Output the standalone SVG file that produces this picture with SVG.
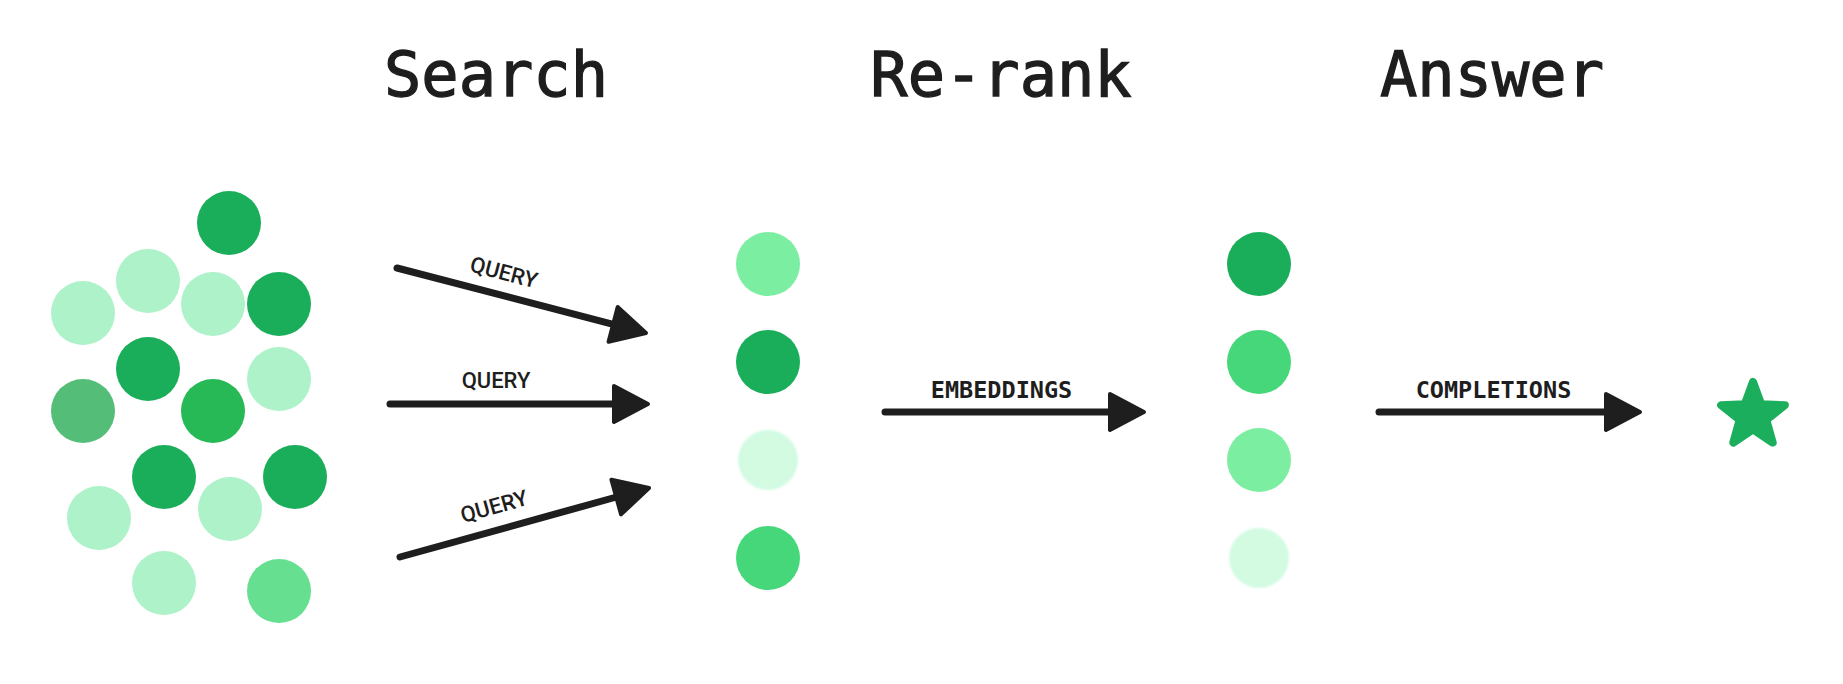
<svg xmlns="http://www.w3.org/2000/svg" width="1843" height="684" viewBox="0 0 1843 684">
  <style>
    .heading { font-family: "DejaVu Sans Mono", "Liberation Mono", monospace; font-size: 62px; fill: #1e1e1e; stroke: #1e1e1e; stroke-width: 1.3; text-anchor: middle; }
    .lbl { font-family: "DejaVu Sans Mono", "Liberation Mono", monospace; font-size: 23.5px; font-weight: bold; fill: #1e1e1e; text-anchor: middle; }
    .q { font-family: Roboto, "Liberation Sans", sans-serif; font-size: 22px; font-weight: 500; fill: #1e1e1e; text-anchor: middle; }
    .edge { stroke: #1e1e1e; stroke-width: 7; stroke-linecap: round; fill: none; marker-end: url(#head); }
    .dark { fill: #1AAE5B; }
    .light { fill: #ADF2C8; }
    .medH { fill: #54BE79; }
    .brightI { fill: #27B955; }
    .medO { fill: #66DF91; }
    .mint { fill: #7CEEA2; }
    .mid { fill: #46D77B; }
    .pale { fill: #D2FBE2; filter: url(#soft); }
  </style>
  <defs>
    <marker id="head" markerUnits="userSpaceOnUse" viewBox="-40 -25 50 50" markerWidth="50" markerHeight="50" refX="-30" refY="0" orient="auto">
      <path d="M-34,-18 L0,0 L-34,18 Z" fill="#1e1e1e" stroke="#1e1e1e" stroke-width="4" stroke-linejoin="round"/>
    </marker>
    <filter id="soft" x="-20%" y="-20%" width="140%" height="140%">
      <feGaussianBlur stdDeviation="0.8"/>
    </filter>
  </defs>
  <rect width="1843" height="684" fill="#ffffff"/>

  <g id="headings">
    <text class="heading" x="496" y="96">Search</text>
    <text class="heading" x="1001" y="96">Re-rank</text>
    <text class="heading" x="1492" y="96">Answer</text>
  </g>

  <g id="corpus">
    <circle class="dark" cx="229" cy="223" r="32"/>
    <circle class="light" cx="148" cy="281" r="32"/>
    <circle class="light" cx="83" cy="313" r="32"/>
    <circle class="light" cx="213" cy="304" r="32"/>
    <circle class="dark" cx="279" cy="304" r="32"/>
    <circle class="dark" cx="148" cy="369" r="32"/>
    <circle class="light" cx="279" cy="379" r="32"/>
    <circle class="medH" cx="83" cy="411" r="32"/>
    <circle class="brightI" cx="213" cy="411" r="32"/>
    <circle class="dark" cx="164" cy="477" r="32"/>
    <circle class="dark" cx="295" cy="477" r="32"/>
    <circle class="light" cx="99" cy="518" r="32"/>
    <circle class="light" cx="230" cy="509" r="32"/>
    <circle class="light" cx="164" cy="583" r="32"/>
    <circle class="medO" cx="279" cy="591" r="32"/>
  </g>

  <g id="search-results">
    <circle class="mint" cx="768" cy="264" r="32"/>
    <circle class="dark" cx="768" cy="362" r="32"/>
    <circle class="pale" cx="768" cy="460" r="30"/>
    <circle class="mid" cx="768" cy="558" r="32"/>
  </g>

  <g id="reranked">
    <circle class="dark" cx="1259" cy="264" r="32"/>
    <circle class="mid" cx="1259" cy="362" r="32"/>
    <circle class="mint" cx="1259" cy="460" r="32"/>
    <circle class="pale" cx="1259" cy="558" r="30"/>
  </g>

  <g id="answer">
    <polygon points="1753,382 1761.2,404.2 1784.9,405.2 1766.3,419.8 1772.7,442.6 1753,429.5 1733.3,442.6 1739.7,419.8 1721.1,405.2 1744.8,404.2" fill="#1BAF5D" stroke="#1BAF5D" stroke-width="8" stroke-linejoin="round"/>
  </g>

  <g id="connectors">
    <line class="edge" x1="397" y1="268" x2="617" y2="325.4"/>
    <text class="q" x="504" y="280" transform="rotate(14.6 504 272)">QUERY</text>
    <line class="edge" x1="390" y1="404" x2="618" y2="404"/>
    <text class="q" x="496" y="388">QUERY</text>
    <line class="edge" x1="400" y1="557" x2="620.1" y2="496"/>
    <text class="q" x="494" y="514" transform="rotate(-15.5 494 506)">QUERY</text>
    <line class="edge" x1="885" y1="412" x2="1114" y2="412"/>
    <text class="lbl" x="1001.5" y="398">EMBEDDINGS</text>
    <line class="edge" x1="1379" y1="412" x2="1610" y2="412"/>
    <text class="lbl" x="1493.5" y="398">COMPLETIONS</text>
  </g>
</svg>
